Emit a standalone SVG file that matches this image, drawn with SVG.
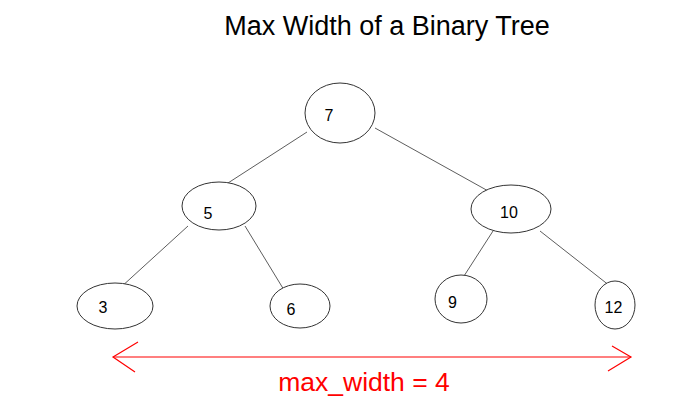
<svg xmlns="http://www.w3.org/2000/svg" width="685" height="410" viewBox="0 0 685 410">
<style>
.n ellipse{fill:#fff;stroke:#333;stroke-width:1}
.n text{font-family:"Liberation Sans",Arial,sans-serif;font-size:16px;fill:#000;text-anchor:middle}
.e line{stroke:#333;stroke-width:0.8}
.r{stroke:#f00;stroke-width:1.2;fill:none}
</style>
<rect width="685" height="410" fill="#fff"/>
<text x="387" y="35" font-family="'Liberation Sans',Arial,sans-serif" font-size="27" text-anchor="middle">Max Width of a Binary Tree</text>
<g id="edges" class="e">
<line x1="307" y1="132" x2="228" y2="183"/>
<line x1="375" y1="128" x2="490" y2="192"/>
<line x1="188" y1="226" x2="120" y2="288"/>
<line x1="245" y1="226" x2="284" y2="290"/>
<line x1="493" y1="231" x2="464" y2="276"/>
<line x1="540" y1="231" x2="610" y2="286"/>
</g>
<g id="n7" class="n"><ellipse cx="340" cy="113" rx="35" ry="30"/><text x="329" y="121">7</text></g>
<g id="n5" class="n"><ellipse cx="219" cy="206" rx="37" ry="24"/><text x="208" y="219">5</text></g>
<g id="n10" class="n"><ellipse cx="511" cy="209" rx="40" ry="24"/><text x="509" y="218">10</text></g>
<g id="n3" class="n"><ellipse cx="115" cy="306" rx="38" ry="23"/><text x="103" y="313">3</text></g>
<g id="n6" class="n"><ellipse cx="300" cy="306" rx="30" ry="22"/><text x="291" y="315">6</text></g>
<g id="n9" class="n"><ellipse cx="461" cy="299" rx="26" ry="24"/><text x="452.5" y="308">9</text></g>
<g id="n12" class="n"><ellipse cx="615" cy="305" rx="20" ry="24"/><text x="613.5" y="313">12</text></g>
<g id="width">
<line class="r" x1="113" y1="357" x2="631" y2="357"/>
<polyline class="r" points="138,342 113,357 135,372"/>
<polyline class="r" points="612,346 631,357 608,371"/>
<text x="364" y="391" font-family="'Liberation Sans',Arial,sans-serif" font-size="26.5" fill="#f00" text-anchor="middle">max_width = 4</text>
</g>
</svg>
